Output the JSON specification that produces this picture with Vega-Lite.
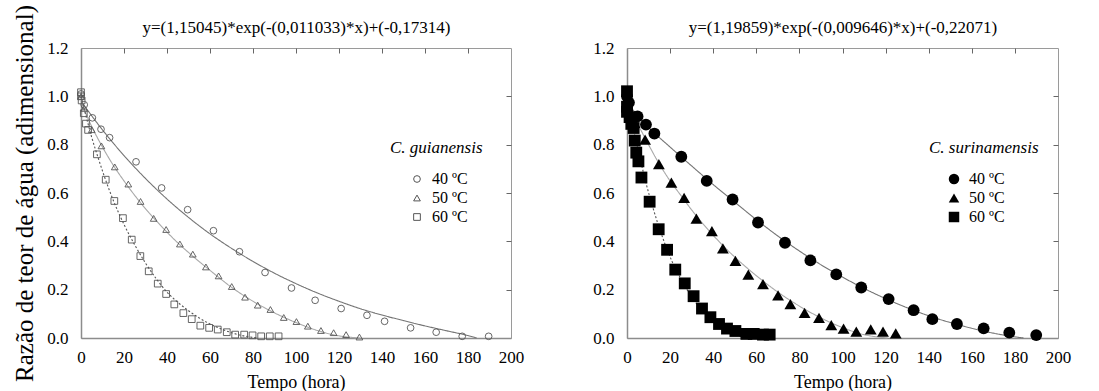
{
  "$schema": "https://vega.github.io/schema/vega-lite/v6.json",
  "padding": {"left": 12, "top": 4, "right": 5, "bottom": 0},
  "background": "white",
  "spacing": 67,
  "datasets": {
    "gPts": [
      {"t": "40 ºC", "x": 0, "y": 1.01}, {"t": "40 ºC", "x": 1.5, "y": 0.965}, {"t": "40 ºC", "x": 5.3, "y": 0.911}, {"t": "40 ºC", "x": 9.3, "y": 0.864}, {"t": "40 ºC", "x": 13.3, "y": 0.829}, {"t": "40 ºC", "x": 25.6, "y": 0.729}, {"t": "40 ºC", "x": 37.5, "y": 0.621}, {"t": "40 ºC", "x": 49.6, "y": 0.531}, {"t": "40 ºC", "x": 61.6, "y": 0.444}, {"t": "40 ºC", "x": 73.7, "y": 0.357}, {"t": "40 ºC", "x": 85.6, "y": 0.271}, {"t": "40 ºC", "x": 97.9, "y": 0.207}, {"t": "40 ºC", "x": 108.9, "y": 0.156}, {"t": "40 ºC", "x": 121, "y": 0.122}, {"t": "40 ºC", "x": 133, "y": 0.094}, {"t": "40 ºC", "x": 141.2, "y": 0.069}, {"t": "40 ºC", "x": 153.3, "y": 0.042}, {"t": "40 ºC", "x": 165.2, "y": 0.024}, {"t": "40 ºC", "x": 177.3, "y": 0.007}, {"t": "40 ºC", "x": 189.6, "y": 0.007},
      {"t": "50 ºC", "x": 0, "y": 1.0}, {"t": "50 ºC", "x": 1.5, "y": 0.95}, {"t": "50 ºC", "x": 5, "y": 0.862}, {"t": "50 ºC", "x": 9.5, "y": 0.795}, {"t": "50 ºC", "x": 15.7, "y": 0.708}, {"t": "50 ºC", "x": 22, "y": 0.637}, {"t": "50 ºC", "x": 27.7, "y": 0.565}, {"t": "50 ºC", "x": 33.8, "y": 0.495}, {"t": "50 ºC", "x": 39.6, "y": 0.449}, {"t": "50 ºC", "x": 46, "y": 0.389}, {"t": "50 ºC", "x": 52, "y": 0.347}, {"t": "50 ºC", "x": 58.1, "y": 0.294}, {"t": "50 ºC", "x": 64, "y": 0.257}, {"t": "50 ºC", "x": 70.1, "y": 0.213}, {"t": "50 ºC", "x": 76.3, "y": 0.169}, {"t": "50 ºC", "x": 82.2, "y": 0.136}, {"t": "50 ºC", "x": 88.1, "y": 0.118}, {"t": "50 ºC", "x": 94.3, "y": 0.085}, {"t": "50 ºC", "x": 100.2, "y": 0.068}, {"t": "50 ºC", "x": 105.5, "y": 0.049}, {"t": "50 ºC", "x": 111.6, "y": 0.031}, {"t": "50 ºC", "x": 117.5, "y": 0.022}, {"t": "50 ºC", "x": 123.3, "y": 0.014}, {"t": "50 ºC", "x": 129.5, "y": 0.004},
      {"t": "60 ºC", "x": 0, "y": 1.017}, {"t": "60 ºC", "x": 0, "y": 1.0}, {"t": "60 ºC", "x": 0.3, "y": 0.983}, {"t": "60 ºC", "x": 1.3, "y": 0.93}, {"t": "60 ºC", "x": 2.3, "y": 0.887}, {"t": "60 ºC", "x": 3.3, "y": 0.861}, {"t": "60 ºC", "x": 7.4, "y": 0.76}, {"t": "60 ºC", "x": 11.5, "y": 0.655}, {"t": "60 ºC", "x": 15.5, "y": 0.567}, {"t": "60 ºC", "x": 19.5, "y": 0.496}, {"t": "60 ºC", "x": 23.6, "y": 0.407}, {"t": "60 ºC", "x": 27.6, "y": 0.339}, {"t": "60 ºC", "x": 31.5, "y": 0.276}, {"t": "60 ºC", "x": 35.7, "y": 0.225}, {"t": "60 ºC", "x": 39.6, "y": 0.182}, {"t": "60 ºC", "x": 43.4, "y": 0.139}, {"t": "60 ºC", "x": 47.6, "y": 0.103}, {"t": "60 ºC", "x": 51.5, "y": 0.078}, {"t": "60 ºC", "x": 55.5, "y": 0.051}, {"t": "60 ºC", "x": 59.6, "y": 0.042}, {"t": "60 ºC", "x": 63.6, "y": 0.035}, {"t": "60 ºC", "x": 67.8, "y": 0.024}, {"t": "60 ºC", "x": 71.7, "y": 0.014}, {"t": "60 ºC", "x": 75.9, "y": 0.014}, {"t": "60 ºC", "x": 79.8, "y": 0.011}, {"t": "60 ºC", "x": 83.8, "y": 0.007}, {"t": "60 ºC", "x": 87.8, "y": 0.007}, {"t": "60 ºC", "x": 91.9, "y": 0.007}
    ],
    "gFit": [
      {"t": "40 ºC", "x": 0, "y": 0.98}, {"t": "40 ºC", "x": 10, "y": 0.861}, {"t": "40 ºC", "x": 20, "y": 0.755}, {"t": "40 ºC", "x": 30, "y": 0.66}, {"t": "40 ºC", "x": 40, "y": 0.575}, {"t": "40 ºC", "x": 50, "y": 0.499}, {"t": "40 ºC", "x": 60, "y": 0.431}, {"t": "40 ºC", "x": 70, "y": 0.371}, {"t": "40 ºC", "x": 80, "y": 0.317}, {"t": "40 ºC", "x": 90, "y": 0.268}, {"t": "40 ºC", "x": 100, "y": 0.225}, {"t": "40 ºC", "x": 110, "y": 0.186}, {"t": "40 ºC", "x": 120, "y": 0.152}, {"t": "40 ºC", "x": 130, "y": 0.121}, {"t": "40 ºC", "x": 140, "y": 0.095}, {"t": "40 ºC", "x": 150, "y": 0.072}, {"t": "40 ºC", "x": 160, "y": 0.05}, {"t": "40 ºC", "x": 170, "y": 0.03}, {"t": "40 ºC", "x": 180, "y": 0.01}, {"t": "40 ºC", "x": 184, "y": 0},
      {"t": "50 ºC", "x": 0, "y": 0.975}, {"t": "50 ºC", "x": 5, "y": 0.875}, {"t": "50 ºC", "x": 10, "y": 0.79}, {"t": "50 ºC", "x": 15, "y": 0.715}, {"t": "50 ºC", "x": 20, "y": 0.65}, {"t": "50 ºC", "x": 25, "y": 0.59}, {"t": "50 ºC", "x": 30, "y": 0.535}, {"t": "50 ºC", "x": 35, "y": 0.485}, {"t": "50 ºC", "x": 40, "y": 0.438}, {"t": "50 ºC", "x": 45, "y": 0.394}, {"t": "50 ºC", "x": 50, "y": 0.354}, {"t": "50 ºC", "x": 55, "y": 0.316}, {"t": "50 ºC", "x": 60, "y": 0.28}, {"t": "50 ºC", "x": 70, "y": 0.21}, {"t": "50 ºC", "x": 80, "y": 0.152}, {"t": "50 ºC", "x": 90, "y": 0.104}, {"t": "50 ºC", "x": 100, "y": 0.064}, {"t": "50 ºC", "x": 110, "y": 0.031}, {"t": "50 ºC", "x": 120, "y": 0.009}, {"t": "50 ºC", "x": 130, "y": 0},
      {"t": "60 ºC", "x": 0, "y": 1.0}, {"t": "60 ºC", "x": 2, "y": 0.93}, {"t": "60 ºC", "x": 5, "y": 0.83}, {"t": "60 ºC", "x": 8, "y": 0.745}, {"t": "60 ºC", "x": 11, "y": 0.665}, {"t": "60 ºC", "x": 15, "y": 0.57}, {"t": "60 ºC", "x": 20, "y": 0.47}, {"t": "60 ºC", "x": 25, "y": 0.385}, {"t": "60 ºC", "x": 30, "y": 0.31}, {"t": "60 ºC", "x": 35, "y": 0.245}, {"t": "60 ºC", "x": 40, "y": 0.19}, {"t": "60 ºC", "x": 45, "y": 0.148}, {"t": "60 ºC", "x": 50, "y": 0.113}, {"t": "60 ºC", "x": 55, "y": 0.083}, {"t": "60 ºC", "x": 60, "y": 0.058}, {"t": "60 ºC", "x": 65, "y": 0.038}, {"t": "60 ºC", "x": 70, "y": 0.022}, {"t": "60 ºC", "x": 75, "y": 0.01}, {"t": "60 ºC", "x": 82, "y": 0}
    ],
    "sPts": [
      {"t": "40 ºC", "x": 0, "y": 1.0}, {"t": "40 ºC", "x": 0.9, "y": 0.974}, {"t": "40 ºC", "x": 4.9, "y": 0.917}, {"t": "40 ºC", "x": 8.8, "y": 0.883}, {"t": "40 ºC", "x": 12.7, "y": 0.846}, {"t": "40 ºC", "x": 25.2, "y": 0.75}, {"t": "40 ºC", "x": 37, "y": 0.65}, {"t": "40 ºC", "x": 49, "y": 0.573}, {"t": "40 ºC", "x": 60.8, "y": 0.478}, {"t": "40 ºC", "x": 73.3, "y": 0.394}, {"t": "40 ºC", "x": 85.1, "y": 0.321}, {"t": "40 ºC", "x": 97.1, "y": 0.263}, {"t": "40 ºC", "x": 108.7, "y": 0.209}, {"t": "40 ºC", "x": 121.4, "y": 0.161}, {"t": "40 ºC", "x": 133, "y": 0.115}, {"t": "40 ºC", "x": 141.7, "y": 0.078}, {"t": "40 ºC", "x": 153.1, "y": 0.058}, {"t": "40 ºC", "x": 165.5, "y": 0.04}, {"t": "40 ºC", "x": 177.4, "y": 0.022}, {"t": "40 ºC", "x": 189.9, "y": 0.012},
      {"t": "50 ºC", "x": 0, "y": 0.97}, {"t": "50 ºC", "x": 1.5, "y": 0.93}, {"t": "50 ºC", "x": 3.5, "y": 0.89}, {"t": "50 ºC", "x": 8.4, "y": 0.821}, {"t": "50 ºC", "x": 14.8, "y": 0.719}, {"t": "50 ºC", "x": 20.6, "y": 0.643}, {"t": "50 ºC", "x": 26.5, "y": 0.58}, {"t": "50 ºC", "x": 32.2, "y": 0.494}, {"t": "50 ºC", "x": 39.4, "y": 0.442}, {"t": "50 ºC", "x": 44.5, "y": 0.371}, {"t": "50 ºC", "x": 50.3, "y": 0.319}, {"t": "50 ºC", "x": 56.3, "y": 0.262}, {"t": "50 ºC", "x": 63.1, "y": 0.223}, {"t": "50 ºC", "x": 70.1, "y": 0.176}, {"t": "50 ºC", "x": 75.8, "y": 0.14}, {"t": "50 ºC", "x": 82.4, "y": 0.104}, {"t": "50 ºC", "x": 89.1, "y": 0.083}, {"t": "50 ºC", "x": 94.8, "y": 0.053}, {"t": "50 ºC", "x": 100.5, "y": 0.039}, {"t": "50 ºC", "x": 106.4, "y": 0.026}, {"t": "50 ºC", "x": 113.1, "y": 0.036}, {"t": "50 ºC", "x": 118.8, "y": 0.026}, {"t": "50 ºC", "x": 124.7, "y": 0.019},
      {"t": "60 ºC", "x": 0, "y": 1.021}, {"t": "60 ºC", "x": 0, "y": 0.957}, {"t": "60 ºC", "x": 0, "y": 0.936}, {"t": "60 ºC", "x": 1.2, "y": 0.914}, {"t": "60 ºC", "x": 2, "y": 0.886}, {"t": "60 ºC", "x": 3.1, "y": 0.869}, {"t": "60 ºC", "x": 3.6, "y": 0.817}, {"t": "60 ºC", "x": 4.3, "y": 0.767}, {"t": "60 ºC", "x": 5.3, "y": 0.731}, {"t": "60 ºC", "x": 6.7, "y": 0.664}, {"t": "60 ºC", "x": 10.5, "y": 0.564}, {"t": "60 ºC", "x": 14.7, "y": 0.45}, {"t": "60 ºC", "x": 18.6, "y": 0.365}, {"t": "60 ºC", "x": 22.4, "y": 0.283}, {"t": "60 ºC", "x": 26.8, "y": 0.226}, {"t": "60 ºC", "x": 30.9, "y": 0.173}, {"t": "60 ºC", "x": 34.8, "y": 0.122}, {"t": "60 ºC", "x": 38.7, "y": 0.086}, {"t": "60 ºC", "x": 42.7, "y": 0.058}, {"t": "60 ºC", "x": 46.4, "y": 0.039}, {"t": "60 ºC", "x": 50.3, "y": 0.029}, {"t": "60 ºC", "x": 55.4, "y": 0.017}, {"t": "60 ºC", "x": 58.8, "y": 0.017}, {"t": "60 ºC", "x": 63.1, "y": 0.014}, {"t": "60 ºC", "x": 66.2, "y": 0.014}
    ],
    "sFit": [
      {"t": "40 ºC", "x": 0, "y": 0.975}, {"t": "40 ºC", "x": 5, "y": 0.92}, {"t": "40 ºC", "x": 10, "y": 0.872}, {"t": "40 ºC", "x": 20, "y": 0.79}, {"t": "40 ºC", "x": 30, "y": 0.712}, {"t": "40 ºC", "x": 40, "y": 0.635}, {"t": "40 ºC", "x": 50, "y": 0.562}, {"t": "40 ºC", "x": 60, "y": 0.49}, {"t": "40 ºC", "x": 70, "y": 0.422}, {"t": "40 ºC", "x": 80, "y": 0.36}, {"t": "40 ºC", "x": 90, "y": 0.303}, {"t": "40 ºC", "x": 100, "y": 0.252}, {"t": "40 ºC", "x": 110, "y": 0.205}, {"t": "40 ºC", "x": 120, "y": 0.163}, {"t": "40 ºC", "x": 130, "y": 0.125}, {"t": "40 ºC", "x": 140, "y": 0.092}, {"t": "40 ºC", "x": 150, "y": 0.064}, {"t": "40 ºC", "x": 160, "y": 0.04}, {"t": "40 ºC", "x": 170, "y": 0.02}, {"t": "40 ºC", "x": 180, "y": 0.005}, {"t": "40 ºC", "x": 184, "y": 0},
      {"t": "50 ºC", "x": 0, "y": 0.97}, {"t": "50 ºC", "x": 5, "y": 0.885}, {"t": "50 ºC", "x": 10, "y": 0.8}, {"t": "50 ºC", "x": 15, "y": 0.72}, {"t": "50 ºC", "x": 20, "y": 0.65}, {"t": "50 ºC", "x": 25, "y": 0.59}, {"t": "50 ºC", "x": 30, "y": 0.53}, {"t": "50 ºC", "x": 35, "y": 0.475}, {"t": "50 ºC", "x": 40, "y": 0.425}, {"t": "50 ºC", "x": 45, "y": 0.378}, {"t": "50 ºC", "x": 50, "y": 0.335}, {"t": "50 ºC", "x": 60, "y": 0.258}, {"t": "50 ºC", "x": 70, "y": 0.19}, {"t": "50 ºC", "x": 80, "y": 0.132}, {"t": "50 ºC", "x": 90, "y": 0.083}, {"t": "50 ºC", "x": 100, "y": 0.043}, {"t": "50 ºC", "x": 110, "y": 0.014}, {"t": "50 ºC", "x": 121, "y": 0},
      {"t": "60 ºC", "x": 0, "y": 0.97}, {"t": "60 ºC", "x": 3, "y": 0.86}, {"t": "60 ºC", "x": 6, "y": 0.745}, {"t": "60 ºC", "x": 9, "y": 0.635}, {"t": "60 ºC", "x": 12, "y": 0.54}, {"t": "60 ºC", "x": 15, "y": 0.455}, {"t": "60 ºC", "x": 18, "y": 0.38}, {"t": "60 ºC", "x": 21, "y": 0.315}, {"t": "60 ºC", "x": 25, "y": 0.245}, {"t": "60 ºC", "x": 30, "y": 0.17}, {"t": "60 ºC", "x": 35, "y": 0.112}, {"t": "60 ºC", "x": 40, "y": 0.068}, {"t": "60 ºC", "x": 45, "y": 0.035}, {"t": "60 ºC", "x": 50, "y": 0.013}, {"t": "60 ºC", "x": 56, "y": 0}
    ]
  },
  "config": {
    "font": "Liberation Serif, Times New Roman, serif",
    "view": {"stroke": "#9a9a9a", "strokeWidth": 1},
    "axis": {
      "grid": false,
      "labelFont": "Liberation Serif, Times New Roman, serif",
      "labelFontSize": 17,
      "labelColor": "#000",
      "titleFont": "Liberation Serif, Times New Roman, serif",
      "titleFontWeight": "normal",
      "titleColor": "#000",
      "domainColor": "#8c8c8c",
      "domainWidth": 1.5,
      "ticks": false,
      "labelOverlap": false,
      "labelFlush": false
    },
    "legend": {
      "titleFont": "Liberation Serif, Times New Roman, serif",
      "labelFont": "Liberation Serif, Times New Roman, serif"
    }
  },
  "resolve": {"scale": {"shape": "independent"}, "legend": {"shape": "independent"}},
  "hconcat": [
    {
      "width": 430,
      "height": 290,
      "resolve": {"axis": {"x": "independent", "y": "independent"}},
      "layer": [
        {
          "data": {"name": "gFit"},
          "mark": {"type": "line", "interpolate": "monotone", "strokeWidth": 1.1},
          "encoding": {
            "x": {"field": "x", "type": "quantitative", "scale": {"domain": [0, 200]},
                  "axis": {"orient": "top", "labels": false, "domain": false, "ticks": true, "tickSize": -5, "tickWidth": 1, "tickColor": "#666", "values": [20, 40, 60, 80, 100, 120, 140, 160, 180],
                           "title": "y=(1,15045)*exp(-(0,011033)*x)+(-0,17314)", "titleFontSize": 17, "titlePadding": 11}},
            "y": {"field": "y", "type": "quantitative", "scale": {"domain": [0, 1.2]},
                  "axis": {"orient": "right", "labels": false, "domain": false, "ticks": true, "tickSize": -5, "tickWidth": 1, "tickColor": "#666", "title": null, "values": [0.2, 0.4, 0.6, 0.8, 1.0]}},
            "detail": {"field": "t"},
            "stroke": {"field": "t", "type": "nominal", "legend": null,
                       "scale": {"domain": ["40 ºC", "50 ºC", "60 ºC"], "range": ["#747474", "#a8a8a8", "#555555"]}},
            "strokeDash": {"field": "t", "type": "nominal", "legend": null,
                           "scale": {"domain": ["40 ºC", "50 ºC", "60 ºC"], "range": [[1, 0], [1, 0], [2, 2]]}}
          }
        },
        {
          "data": {"name": "gPts"},
          "mark": {"type": "point", "filled": false, "stroke": "#555", "strokeWidth": 0.9, "size": 45, "opacity": 1},
          "encoding": {
            "x": {"field": "x", "type": "quantitative", "scale": {"domain": [0, 200]},
                  "axis": {"values": [0, 20, 40, 60, 80, 100, 120, 140, 160, 180, 200], "labelPadding": 11, "title": "Tempo (hora)", "titleFontSize": 18, "titlePadding": 8}},
            "y": {"field": "y", "type": "quantitative", "scale": {"domain": [0, 1.2]},
                  "axis": {"values": [0, 0.2, 0.4, 0.6, 0.8, 1.0, 1.2], "format": ".1f", "labelPadding": 13, "title": "Razão de teor de água (adimensional)", "titleFontSize": 25, "titlePadding": 9}},
            "shape": {"field": "t", "type": "nominal",
                      "scale": {"domain": ["40 ºC", "50 ºC", "60 ºC"], "range": ["circle", "triangle-up", "square"]},
                      "legend": {"orient": "none", "legendX": 309, "legendY": 92, "title": "C. guianensis",
                                 "titleFontStyle": "italic", "titleFontWeight": "normal", "titleFontSize": 17, "titleColor": "#000", "titlePadding": 14,
                                 "labelFontSize": 16, "labelColor": "#000", "labelOffset": 7, "symbolOffset": 19,
                                 "symbolSize": 45, "symbolStrokeColor": "#555", "symbolFillColor": "transparent", "symbolStrokeWidth": 1, "rowPadding": 3, "offset": 0, "padding": 0}}
          }
        }
      ]
    },
    {
      "width": 431,
      "height": 290,
      "resolve": {"axis": {"x": "independent", "y": "independent"}},
      "layer": [
        {
          "data": {"name": "sFit"},
          "mark": {"type": "line", "interpolate": "monotone", "strokeWidth": 1.1},
          "encoding": {
            "x": {"field": "x", "type": "quantitative", "scale": {"domain": [0, 200]},
                  "axis": {"orient": "top", "labels": false, "domain": false, "ticks": true, "tickSize": -5, "tickWidth": 1, "tickColor": "#666", "values": [20, 40, 60, 80, 100, 120, 140, 160, 180],
                           "title": "y=(1,19859)*exp(-(0,009646)*x)+(-0,22071)", "titleFontSize": 17, "titlePadding": 11}},
            "y": {"field": "y", "type": "quantitative", "scale": {"domain": [0, 1.2]},
                  "axis": {"orient": "right", "labels": false, "domain": false, "ticks": true, "tickSize": -5, "tickWidth": 1, "tickColor": "#666", "title": null, "values": [0.2, 0.4, 0.6, 0.8, 1.0]}},
            "detail": {"field": "t"},
            "stroke": {"field": "t", "type": "nominal", "legend": null,
                       "scale": {"domain": ["40 ºC", "50 ºC", "60 ºC"], "range": ["#747474", "#a8a8a8", "#555555"]}},
            "strokeDash": {"field": "t", "type": "nominal", "legend": null,
                           "scale": {"domain": ["40 ºC", "50 ºC", "60 ºC"], "range": [[1, 0], [1, 0], [2, 2]]}}
          }
        },
        {
          "data": {"name": "sPts"},
          "mark": {"type": "point", "filled": true, "color": "#000", "size": 140, "opacity": 1},
          "encoding": {
            "x": {"field": "x", "type": "quantitative", "scale": {"domain": [0, 200]},
                  "axis": {"values": [0, 20, 40, 60, 80, 100, 120, 140, 160, 180, 200], "labelPadding": 11, "title": "Tempo (hora)", "titleFontSize": 18, "titlePadding": 8}},
            "y": {"field": "y", "type": "quantitative", "scale": {"domain": [0, 1.2]},
                  "axis": {"values": [0, 0.2, 0.4, 0.6, 0.8, 1.0, 1.2], "format": ".1f", "labelPadding": 13, "title": null}},
            "shape": {"field": "t", "type": "nominal",
                      "scale": {"domain": ["40 ºC", "50 ºC", "60 ºC"], "range": ["circle", "triangle-up", "square"]},
                      "legend": {"orient": "none", "legendX": 302, "legendY": 92, "title": "C. surinamensis",
                                 "titleFontStyle": "italic", "titleFontWeight": "normal", "titleFontSize": 17, "titleColor": "#000", "titlePadding": 14,
                                 "labelFontSize": 16, "labelColor": "#000", "labelOffset": 7, "symbolOffset": 17,
                                 "symbolSize": 110, "symbolStrokeColor": "#000", "symbolFillColor": "#000", "symbolStrokeWidth": 0, "rowPadding": 3, "offset": 0, "padding": 0}}
          }
        }
      ]
    }
  ]
}
